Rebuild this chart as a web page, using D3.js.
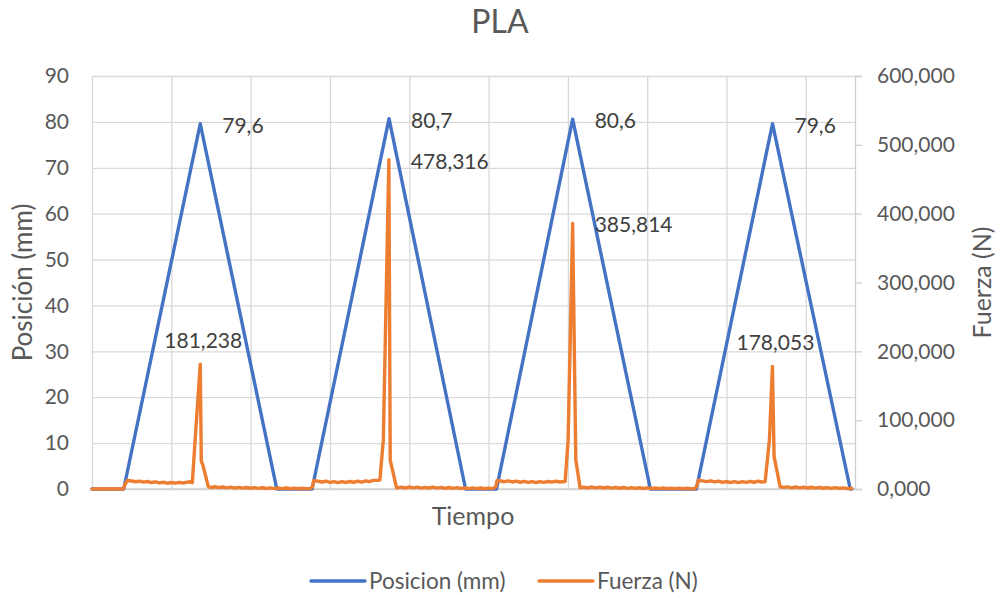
<!DOCTYPE html>
<html>
<head>
<meta charset="utf-8">
<script src="https://cdn.jsdelivr.net/npm/d3@7"></script>
<style>
  html, body { margin: 0; padding: 0; background: #fff; }
  svg { display: block; font-family: Lato, "Open Sans", sans-serif; }
</style>
</head>
<body>
<svg id="chart" width="995" height="593"></svg>
<script>
// Ensayo de PLA: posición del actuador (eje izquierdo) y fuerza medida (eje derecho)

// Posición: vértices de cada ciclo de subida/bajada (tiempo en s, posición en mm)
const posicionTiempo = [0, 4.0, 13.65, 23.3, 27.75, 37.45, 47.1, 51.0, 60.6, 70.4, 76.2, 85.8, 95.6, 95.8];
const posicionValores = [0, 0, 79.6, 0, 0, 80.7, 0, 0, 80.6, 0, 0, 79.6, 0, 0];

// Fuerza: muestras registradas (tiempo en s, fuerza en N)
const fuerzaTiempo = [
  0, 0.5, 1, 1.5, 2, 2.5, 3, 3.5, 3.95, 4.15, 4.45,
  5, 5.5, 6, 6.5, 7, 7.5, 8, 8.5, 9, 9.5, 10, 10.5, 11, 11.5, 12, 12.4, 12.65,
  13.03, 13.65, 13.78, 13.95, 14.67,
  15, 15.5, 16, 16.5, 17, 17.5, 18, 18.5, 19, 19.5, 20, 20.5, 21, 21.5, 22, 22.5, 23, 23.5, 24, 24.5, 25, 25.5, 26, 26.5, 27, 27.5,
  27.8, 27.95,
  28.5, 29, 29.5, 30, 30.5, 31, 31.5, 32, 32.5, 33, 33.5, 34, 34.5, 35, 35.5, 36.05, 36.3,
  36.73, 37.43, 37.6, 38.4,
  39, 39.5, 40, 40.5, 41, 41.5, 42, 42.5, 43, 43.5, 44, 44.5, 45, 45.5, 46, 46.5, 47, 47.5, 48, 48.5, 49, 49.5, 50, 50.5,
  50.9, 51.07,
  51.5, 52, 52.5, 53, 53.5, 54, 54.5, 55, 55.5, 56, 56.5, 57, 57.5, 58, 58.5, 59, 59.65,
  60.03, 60.6, 61.0, 61.54,
  62, 62.5, 63, 63.5, 64, 64.5, 65, 65.5, 66, 66.5, 67, 67.5, 68, 68.5, 69, 69.5, 70, 70.5, 71, 71.5, 72, 72.5, 73, 73.5, 74, 74.5, 75, 75.5, 76,
  76.25, 76.45,
  77, 77.5, 78, 78.5, 79, 79.5, 80, 80.5, 81, 81.5, 82, 82.5, 83, 83.5, 84, 84.5, 84.87,
  85.41, 85.79, 86.0, 86.76,
  87.2, 87.7, 88.2, 88.7, 89.2, 89.7, 90.2, 90.7, 91.2, 91.7, 92.2, 92.7, 93.2, 93.7, 94.2, 94.7, 95.2, 95.8
];
const fuerzaValores = [
  0.2, 0, 0.3, 0.1, 0.4, 0, 0.3, 0.1, 0.2, 6, 12.4,
  11.6, 10.5, 11.5, 9.9, 10.9, 9.4, 10.4, 8.8, 9.8, 8.4, 9.5, 8.5, 9.7, 8.7, 9.9, 10.5, 9.2,
  76, 181.238, 40, 36, 3.2,
  2.2, 3.3, 1.9, 2.9, 1.6, 2.7, 1.4, 2.4, 1.2, 2.2, 1.1, 2.0, 0.9, 1.8, 0.7, 1.6, 0.6, 1.5, 0.5, 1.4, 0.4, 1.2, 0.3, 1.1, 0.4, 0.9,
  3, 12.2,
  11.2, 10.2, 11.3, 9.7, 10.8, 9.3, 10.6, 9.5, 10.9, 9.8, 11.3, 10.1, 11.8, 10.7, 12.5, 12.6, 13.4,
  71, 478.316, 42, 1.6,
  2.6, 1.4, 2.9, 1.6, 2.7, 1.2, 2.4, 1.5, 2.8, 1.3, 2.3, 1.0, 2.2, 0.9, 1.9, 0.7, 1.7, 0.6, 1.6, 0.5, 1.4, 0.4, 1.3, 0.6,
  3, 12.4,
  11.6, 10.6, 11.8, 10.2, 11.4, 9.8, 11.0, 9.6, 10.8, 9.4, 10.7, 9.6, 10.9, 9.9, 11.3, 10.2, 10.8,
  71, 385.814, 42, 1.8,
  2.7, 1.5, 2.9, 1.7, 2.6, 1.4, 2.5, 1.3, 2.3, 1.1, 2.2, 1.0, 2.0, 0.8, 1.8, 0.7, 1.7, 0.6, 1.5, 0.5, 1.4, 0.4, 1.3, 0.3, 1.2, 0.3, 1.1, 0.4, 0.7,
  4, 13,
  11.9, 10.8, 11.9, 10.3, 11.4, 9.7, 10.9, 9.4, 10.6, 9.3, 10.7, 9.6, 11.0, 9.8, 11.3, 10.1, 10.8,
  71, 178.053, 47, 3.3,
  2.3, 3.0, 1.7, 2.9, 1.6, 2.6, 1.4, 2.5, 1.3, 2.3, 1.1, 2.1, 1.0, 1.9, 0.8, 1.6, 0.7, 0.8
];

// Ejes
const tiempoDominio = [0, 96.2];
const posicionTicks = [0, 10, 20, 30, 40, 50, 60, 70, 80, 90];
const fuerzaTicks = [0, 100, 200, 300, 400, 500, 600];
const tiempoGrid = [0, 10, 20, 30, 40, 50, 60, 70, 80, 90];

const titulo = "PLA";
const tituloX = "Tiempo";
const tituloYIzq = "Posición (mm)";
const tituloYDer = "Fuerza (N)";
const series = ["Posicion (mm)", "Fuerza (N)"];

const AZUL = "#4472C4", NARANJA = "#ED7D31", TEXTO = "#595959", GRID = "#d9d9d9", EJE = "#d0d0d0";

const es = d3.formatLocale({ decimal: ",", thousands: ".", grouping: [3], currency: ["", "€"] });
const fmt1 = es.format(".1f"), fmt3 = es.format(".3f");

const svg = d3.select("#chart");
const plot = { left: 92, right: 855, top: 76, bottom: 489 };

const x = d3.scaleLinear().domain(tiempoDominio).range([plot.left, plot.right]);
const yPos = d3.scaleLinear().domain([0, 90]).range([plot.bottom, plot.top]);
const yF = d3.scaleLinear().domain([0, 600]).range([plot.bottom, plot.top]);

// Cuadrícula horizontal
svg.append("g").attr("class", "grid-h")
  .attr("transform", `translate(${plot.left},0)`)
  .call(d3.axisLeft(yPos).tickValues(posicionTicks).tickSize(-(plot.right - plot.left)).tickFormat(""))
  .call(g => g.select(".domain").remove())
  .call(g => g.selectAll("line").attr("stroke", GRID).attr("stroke-width", 1.3));

// Cuadrícula vertical
svg.append("g").attr("class", "grid-v")
  .attr("transform", `translate(0,${plot.bottom})`)
  .call(d3.axisBottom(x).tickValues(tiempoGrid).tickSize(-(plot.bottom - plot.top)).tickFormat(""))
  .call(g => g.select(".domain").remove())
  .call(g => g.selectAll("line").attr("stroke", GRID).attr("stroke-width", 1.3));

// Eje inferior (sin etiquetas)
svg.append("line")
  .attr("x1", plot.left).attr("x2", plot.right)
  .attr("y1", plot.bottom).attr("y2", plot.bottom)
  .attr("stroke", EJE).attr("stroke-width", 1.3);

// Eje izquierdo: etiquetas de posición
svg.append("g")
  .attr("transform", `translate(${plot.left},0)`)
  .call(d3.axisLeft(yPos).tickValues(posicionTicks).tickSize(0).tickPadding(23).tickFormat(d3.format("d")))
  .call(g => g.select(".domain").remove())
  .call(g => g.selectAll("text").attr("fill", TEXTO).style("font-size", "21px").style("font-family", "Lato"));

// Eje derecho: fuerza
svg.append("g")
  .attr("transform", `translate(${plot.right},0)`)
  .call(d3.axisRight(yF).tickValues(fuerzaTicks).tickSize(7).tickPadding(15).tickFormat(fmt3))
  .call(g => g.select(".domain").attr("stroke", EJE).attr("stroke-width", 1.3))
  .call(g => g.selectAll(".tick line").attr("stroke", EJE).attr("stroke-width", 1.3))
  .call(g => g.selectAll("text").attr("fill", TEXTO).style("font-size", "21px").style("font-family", "Lato"));

// Series
const lineaPos = d3.line().x((d, i) => x(posicionTiempo[i])).y(d => yPos(d));
const lineaF = d3.line().x((d, i) => x(fuerzaTiempo[i])).y(d => yF(d));

svg.append("path").datum(posicionValores)
  .attr("d", lineaPos).attr("fill", "none")
  .attr("stroke", AZUL).attr("stroke-width", 3.4).attr("stroke-linejoin", "round").attr("stroke-linecap", "round");

svg.append("path").datum(fuerzaValores)
  .attr("d", lineaF).attr("fill", "none")
  .attr("stroke", NARANJA).attr("stroke-width", 3.4).attr("stroke-linejoin", "round").attr("stroke-linecap", "round");

// Etiquetas de datos en los máximos de cada ciclo
function maximos(vals, umbral) {
  const idx = [];
  vals.forEach((v, i) => {
    if (v > umbral && (i === 0 || v > vals[i - 1]) && (i === vals.length - 1 || v > vals[i + 1])) idx.push(i);
  });
  return idx;
}

const etiquetas = svg.append("g").attr("fill", "#404040").style("font-size", "21px").style("font-family", "Lato");

maximos(posicionValores, 10).forEach(i => {
  etiquetas.append("text")
    .attr("x", x(posicionTiempo[i]) + 22)
    .attr("y", yPos(posicionValores[i]) + 9)
    .text(fmt1(posicionValores[i]));
});

maximos(fuerzaValores, 100).forEach(i => {
  const v = fuerzaValores[i];
  const px = x(fuerzaTiempo[i]), py = yF(v);
  const t = etiquetas.append("text").text(fmt3(v));
  if (v > 300) {
    t.attr("x", px + 22).attr("y", py + 9);
  } else {
    t.attr("x", px + 3).attr("y", py - 16).attr("text-anchor", "middle");
  }
});

// Títulos
svg.append("text").attr("x", 500).attr("y", 33).attr("text-anchor", "middle")
  .attr("fill", TEXTO).style("font-size", "32px").text(titulo);

svg.append("text").attr("x", 473).attr("y", 525).attr("text-anchor", "middle")
  .attr("fill", TEXTO).style("font-size", "25px").text(tituloX);

svg.append("text").attr("transform", `translate(32,${(plot.top + plot.bottom) / 2}) rotate(-90)`)
  .attr("text-anchor", "middle").attr("fill", TEXTO).style("font-size", "26px").text(tituloYIzq);

svg.append("text").attr("transform", `translate(991,${(plot.top + plot.bottom) / 2}) rotate(-90)`)
  .attr("text-anchor", "middle").attr("fill", TEXTO).style("font-size", "25px").text(tituloYDer);

// Leyenda
const leyenda = svg.append("g").style("font-size", "22.5px").attr("fill", TEXTO);
const items = [
  { nombre: series[0], color: AZUL, x0: 311 },
  { nombre: series[1], color: NARANJA, x0: 539 }
];
items.forEach(it => {
  leyenda.append("line").attr("x1", it.x0).attr("x2", it.x0 + 54).attr("y1", 581).attr("y2", 581)
    .attr("stroke", it.color).attr("stroke-width", 3.4).attr("stroke-linecap", "round");
  leyenda.append("text").attr("x", it.x0 + 58).attr("y", 589).text(it.nombre);
});
</script>
</body>
</html>
